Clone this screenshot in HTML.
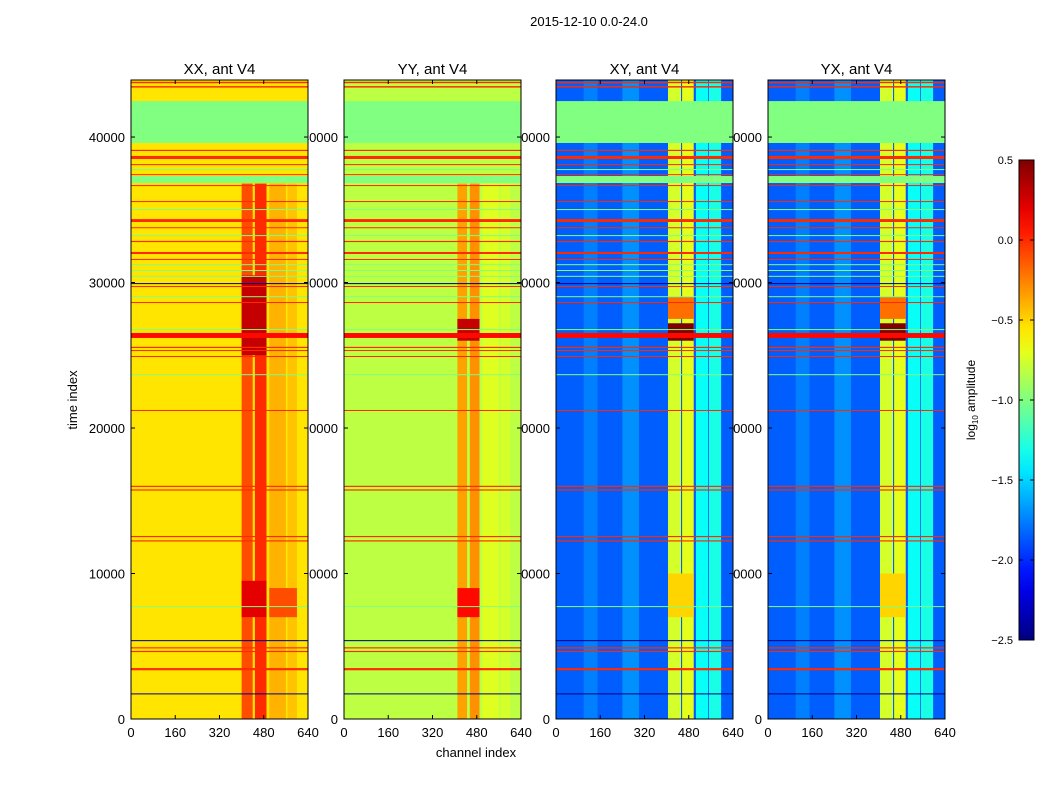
<!DOCTYPE html>
<html><head><meta charset="utf-8"><style>
body{margin:0;background:#fff}
svg text{font-family:"Liberation Sans",sans-serif;fill:#000}
</style></head><body>
<svg id="fig" width="1050" height="800" viewBox="0 0 1050 800" xmlns="http://www.w3.org/2000/svg">
<rect width="1050" height="800" fill="#fff"/>
<text x="589" y="26" font-size="13" text-anchor="middle">2015-12-10 0.0-24.0</text>
<text x="0" y="0" font-size="13" text-anchor="middle" transform="translate(77,400) rotate(-90)">time index</text>
<text x="476" y="757" font-size="13" text-anchor="middle">channel index</text>
<g id="labels"></g><g id="images"></g><g id="frames"></g><g id="cbar"></g>
</svg>
<script>
const panelNames = ["XX, ant V4","YY, ant V4","XY, ant V4","YX, ant V4"];
const panelLeft = [131,344,556,768];
const baseValue = [-0.55,-0.82,-1.85,-1.85];
const columnTop = [36800,36800,43920,43920];
const columnsXX = [[400,440,-0.1],[448,490,0.0],[500,560,-0.4],[566,600,-0.45]];
const columnsYY = [[410,445,-0.35],[455,490,-0.3],[500,560,-0.72],[566,600,-0.75]];
const columnsX = [[100,150,-1.75],[240,300,-1.7],[405,452,-0.75],[456,498,-0.7],[506,550,-1.35],[553,597,-1.3]];
const panelColumns = [columnsXX,columnsYY,columnsX,columnsX];
const hotSpots = [
 [0,400,490,25000,30500,0.3],[0,400,490,7000,9500,0.2],[0,500,600,7000,9000,-0.1],
 [1,410,490,7000,9000,0.1],[1,410,490,26000,27500,0.3],
 [2,405,498,26000,27200,0.5],[2,405,498,7000,10000,-0.5],[2,405,498,27500,29000,-0.2],
 [3,405,498,26000,27200,0.5],[3,405,498,7000,10000,-0.5],[3,405,498,27500,29000,-0.2]];
const rowStart = [39590,43400,43700,39040,38490,38070,37730,37390,36840,36630,35530,34980,34160,33740,33200,32780,31960,31550,31200,30800,30400,29900,29690,28590,26740,26190,25500,25290,24880,23640,21170,15700,15950,12200,12500,7700,5350,4600,4850,3350,1700,29000];
const rowEnd   = [42470,43500,43800,39120,38700,38140,37800,37450,37320,36700,35600,35050,34360,33800,33260,32860,32100,31620,31260,30860,30460,29960,29760,28660,26800,26530,25580,25360,24950,23700,21240,15780,16030,12280,12580,7760,5420,4680,4930,3500,1760,29060];
const rowValue = [-1.0,0.0,0.0,0.0,0.0,0.0,-1.0,0.0,-1.0,0.0,0.0,-1.0,0.0,0.0,-1.0,0.0,0.0,0.0,-1.0,-1.0,-1.0,-2.5,0.0,0.0,-1.0,0.1,0.0,0.0,0.0,-1.0,0.0,0.0,0.0,0.0,0.0,-1.0,-2.5,0.0,0.0,0.0,-2.5,-1.0];
const yTicks = [0,10000,20000,30000,40000];
const xTicks = [0,160,320,480,640];
const cbTicks = [-2.5,-2.0,-1.5,-1.0,-0.5,0.0,0.5];

const NS="http://www.w3.org/2000/svg";
const W=177, TOP=80, BOT=719, TMAX=43920, CMAX=640, VMIN=-2.5, VMAX=0.5;
function ys(t){return BOT-(BOT-TOP)*t/TMAX;}
function xs(p,c){return panelLeft[p]+W*c/CMAX;}
function cl(v){return Math.max(0,Math.min(1,v));}
function jet(v){const t=cl((v-VMIN)/(VMAX-VMIN));
 const r=cl(1.5-Math.abs(4*t-3)),g=cl(1.5-Math.abs(4*t-2)),b=cl(1.5-Math.abs(4*t-1));
 return `rgb(${Math.round(r*255)},${Math.round(g*255)},${Math.round(b*255)})`;}
function mk(tag,attrs,parent){const e=document.createElementNS(NS,tag);for(const k in attrs)e.setAttribute(k,attrs[k]);parent.appendChild(e);return e;}
const gl=document.getElementById('labels'),gi=document.getElementById('images'),gf=document.getElementById('frames'),gc=document.getElementById('cbar');
function cell(p,c0,c1,t0,t1,v,name){
 const r=mk('rect',{x:xs(p,c0),y:ys(t1),width:xs(p,c1)-xs(p,c0),height:Math.max(1,ys(t0)-ys(t1)),fill:jet(v)},gi);
 
 
}
for(let p=0;p<4;p++){
 const x0=panelLeft[p];
 const tt=mk('text',{x:x0+W/2,y:74,'font-size':15,'text-anchor':'middle'},gl);tt.textContent=panelNames[p];
 
 
 yTicks.forEach(t=>{const e=mk('text',{x:x0-6,y:ys(t)+5,'font-size':13,'text-anchor':'end'},gl);e.textContent=t;
  
  });
 xTicks.forEach(c=>{const e=mk('text',{x:xs(p,c),y:737,'font-size':13,'text-anchor':'middle'},gl);e.textContent=c;
  
  });
 cell(p,0,CMAX,0,TMAX,baseValue[p],'heatmap-base');
 panelColumns[p].forEach(c=>cell(p,c[0],c[1],0,columnTop[p],c[2],'channel-band'));
 hotSpots.filter(h=>h[0]===p).forEach(h=>cell(p,h[1],h[2],h[3],h[4],h[5],'hot-spot'));
 for(let i=0;i<rowStart.length;i++) cell(p,0,CMAX,rowStart[i],rowEnd[i],rowValue[i],'time-band');
 const fr=mk('rect',{x:x0,y:TOP,width:W,height:BOT-TOP,fill:'none',stroke:'#000','stroke-width':1},gf);
 
 
 yTicks.forEach(t=>{mk('line',{x1:x0,x2:x0+4,y1:ys(t),y2:ys(t),stroke:'#000'},gf);mk('line',{x1:x0+W-4,x2:x0+W,y1:ys(t),y2:ys(t),stroke:'#000'},gf);});
 xTicks.forEach(c=>{mk('line',{x1:xs(p,c),x2:xs(p,c),y1:BOT,y2:BOT-4,stroke:'#000'},gf);mk('line',{x1:xs(p,c),x2:xs(p,c),y1:TOP,y2:TOP+4,stroke:'#000'},gf);});
}
const defs=mk('defs',{},gc);const lg=mk('linearGradient',{id:'jetg',x1:0,y1:1,x2:0,y2:0},defs);
for(let i=0;i<=20;i++){mk('stop',{offset:i/20,'stop-color':jet(VMIN+(VMAX-VMIN)*i/20)},lg);}
const CB0=160,CB1=640;
const cb=mk('rect',{x:1019,y:CB0,width:15,height:CB1-CB0,fill:'url(#jetg)',stroke:'#000'},gc);


function cy(v){return CB1-(CB1-CB0)*(v-VMIN)/(VMAX-VMIN);}
cbTicks.forEach(v=>{mk('line',{x1:1019,x2:1023,y1:cy(v),y2:cy(v),stroke:'#000'},gc);mk('line',{x1:1030,x2:1034,y1:cy(v),y2:cy(v),stroke:'#000'},gc);
 const e=mk('text',{x:1013,y:cy(v)+4,'font-size':11,'text-anchor':'end'},gc);e.textContent=(v<0?'\u2212':'')+Math.abs(v).toFixed(1);
 
 });
const cl2=mk('text',{'font-size':12,'text-anchor':'middle',transform:'translate(975,400) rotate(-90)'},gc);
cl2.innerHTML='log<tspan font-size="8" dy="3">10</tspan><tspan dy="-3"> amplitude</tspan>';


</script>
</body></html>
